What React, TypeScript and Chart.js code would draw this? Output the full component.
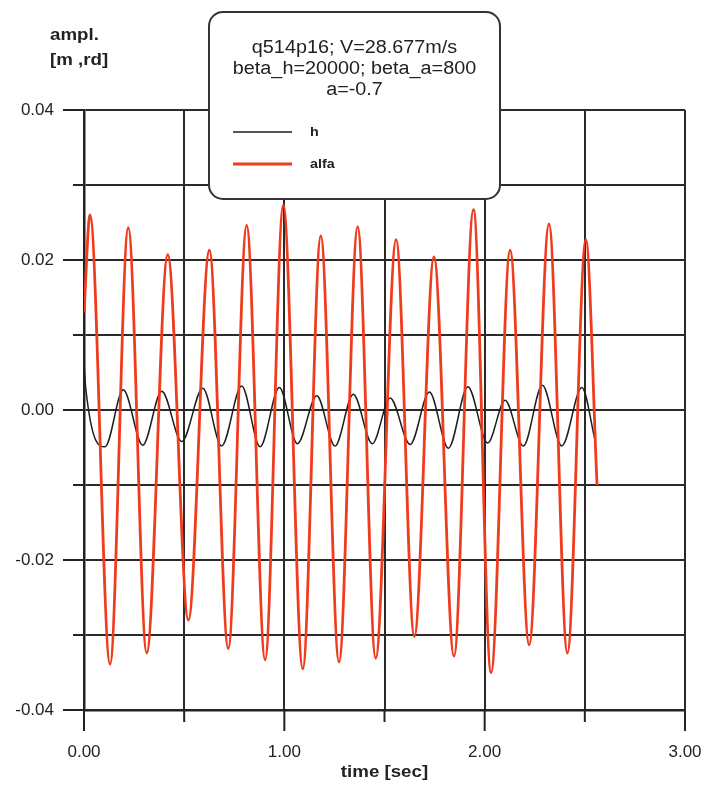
import { useEffect, useRef } from "react";
import { Chart, registerables } from "chart.js";

Chart.register(...registerables);

// Plunge displacement h [m]
const hTime = [0, 0.008, 0.105, 0.196, 0.293, 0.388, 0.488, 0.593, 0.687, 0.787, 0.879, 0.975, 1.065, 1.162, 1.253, 1.344, 1.439, 1.528, 1.628, 1.724, 1.819, 1.916, 2.015, 2.102, 2.193, 2.288, 2.385, 2.485, 2.551];
const hValue = [0.0065, 0.0031, -0.0049, 0.0027, -0.0047, 0.0025, -0.0042, 0.0029, -0.0048, 0.0032, -0.0049, 0.003, -0.0045, 0.0019, -0.0048, 0.0021, -0.0045, 0.0016, -0.0046, 0.0024, -0.0051, 0.0031, -0.0044, 0.0013, -0.0048, 0.0033, -0.0048, 0.003, -0.004];

// Pitch angle alfa [rd]
const alfaTime = [0, 0.03, 0.13, 0.221, 0.313, 0.418, 0.521, 0.626, 0.72, 0.812, 0.904, 0.995, 1.092, 1.182, 1.273, 1.366, 1.456, 1.558, 1.649, 1.747, 1.847, 1.944, 2.032, 2.127, 2.222, 2.321, 2.413, 2.505, 2.561];
const alfaValue = [0.013, 0.026, -0.0339, 0.0243, -0.0324, 0.0207, -0.028, 0.0213, -0.0318, 0.0246, -0.0333, 0.0273, -0.0345, 0.0232, -0.0336, 0.0244, -0.0331, 0.0227, -0.0302, 0.0204, -0.0328, 0.0267, -0.035, 0.0213, -0.0313, 0.0248, -0.0324, 0.0227, -0.01];

const seriesNames = ["h", "alfa"];
const seriesColors = ["#1e1e1e", "#f03c1e"];
const boxLines = ["q514p16; V=28.677m/s", "beta_h=20000; beta_a=800", "a=-0.7"];
const yTitle = ["ampl.", "[m ,rd]"];
const xTitle = "time [sec]";

const FONT = "'Liberation Sans', Arial, sans-serif";
const INK = "#222222";
const GRID = "#2a2a2a";

function drawText(
  ctx: CanvasRenderingContext2D,
  text: string,
  x: number,
  y: number,
  font: string,
  align: CanvasTextAlign,
  color = INK,
  stretch = 1.1
) {
  ctx.save();
  ctx.font = font;
  ctx.fillStyle = color;
  ctx.textAlign = align;
  ctx.textBaseline = "middle";
  ctx.translate(x, y);
  ctx.scale(stretch, 1);
  ctx.fillText(text, 0, 0);
  ctx.restore();
}

const decorPlugin = {
  id: "decor",
  afterDatasetsDraw(chart: any) {
    const ctx: CanvasRenderingContext2D = chart.ctx;
    // info / legend box
    const bx = 209, by = 12, bw = 291, bh = 187;
    ctx.save();
    ctx.beginPath();
    ctx.roundRect(bx, by, bw, bh, 14);
    ctx.fillStyle = "#ffffff";
    ctx.fill();
    ctx.lineWidth = 2;
    ctx.strokeStyle = "#333333";
    ctx.stroke();
    ctx.restore();

    const cx = bx + bw / 2;
    boxLines.forEach((line, i) => {
      drawText(ctx, line, cx, 48 + i * 21, `18px ${FONT}`, "center");
    });

    const rows = [132, 164];
    chart.data.datasets.forEach((ds: any, i: number) => {
      const y = rows[i];
      ctx.save();
      ctx.strokeStyle = ds.borderColor;
      ctx.lineWidth = i === 1 ? 2.8 : 1.6;
      ctx.beginPath();
      ctx.moveTo(233, y);
      ctx.lineTo(292, y);
      ctx.stroke();
      ctx.restore();
      drawText(ctx, ds.label, 310, y, `bold 13px ${FONT}`, "left");
    });
  },
  afterDraw(chart: any) {
    const ctx: CanvasRenderingContext2D = chart.ctx;
    const { left, bottom } = chart.chartArea;
    const xs = chart.scales.x;
    const ys = chart.scales.y;
    ctx.save();
    ctx.strokeStyle = INK;
    ctx.lineWidth = 2;
    ys.ticks.forEach((t: any) => {
      const major = Math.round(t.value * 100) % 2 === 0;
      const py = ys.getPixelForValue(t.value);
      ctx.beginPath();
      ctx.moveTo(left - (major ? 21 : 11), py);
      ctx.lineTo(left, py);
      ctx.stroke();
    });
    xs.ticks.forEach((t: any) => {
      const major = Math.abs(t.value - Math.round(t.value)) < 1e-6;
      const px = xs.getPixelForValue(t.value);
      ctx.beginPath();
      ctx.moveTo(px, bottom);
      ctx.lineTo(px, bottom + (major ? 21 : 12));
      ctx.stroke();
    });
    ctx.restore();

    drawText(ctx, yTitle[0], 50, 35, `bold 17px ${FONT}`, "left");
    drawText(ctx, yTitle[1], 50, 60, `bold 17px ${FONT}`, "left");
    drawText(ctx, xTitle, (chart.chartArea.left + chart.chartArea.right) / 2, 772, `bold 17px ${FONT}`, "center");
  },
};

export default function App() {
  const canvasRef = useRef<HTMLCanvasElement | null>(null);

  useEffect(() => {
    const canvas = canvasRef.current;
    if (!canvas) return;
    const toPoints = (xs: number[], ys: number[]) => xs.map((x, i) => ({ x, y: ys[i] }));

    const chart = new Chart(canvas, {
      type: "line",
      data: {
        datasets: [
          {
            label: seriesNames[0],
            data: toPoints(hTime, hValue),
            borderColor: seriesColors[0],
            borderWidth: 1.5,
            pointRadius: 0,
            cubicInterpolationMode: "monotone",
            order: 1,
          },
          {
            label: seriesNames[1],
            data: toPoints(alfaTime, alfaValue),
            borderColor: seriesColors[1],
            borderWidth: 2.8,
            pointRadius: 0,
            cubicInterpolationMode: "monotone",
            order: 0,
          },
        ],
      },
      options: {
        responsive: false,
        animation: false,
        layout: { padding: { top: 110, right: 22, left: 0, bottom: 0 } },
        plugins: { legend: { display: false }, tooltip: { enabled: false } },
        scales: {
          x: {
            type: "linear",
            min: 0,
            max: 3,
            afterFit: (s: any) => {
              s.height = 75;
              s.paddingLeft = 0;
              s.paddingRight = 0;
            },
            ticks: {
              stepSize: 0.5,
              padding: 32,
              maxRotation: 0,
              autoSkip: false,
              color: INK,
              font: { family: FONT, size: 17 },
              callback: (v: any) => {
                const n = Number(v);
                return Math.abs(n - Math.round(n)) < 1e-6 ? n.toFixed(2) : "";
              },
            },
            grid: { color: GRID, lineWidth: 2, drawTicks: false },
            border: { display: true, color: INK, width: 2.5 },
          },
          y: {
            type: "linear",
            min: -0.04,
            max: 0.04,
            afterFit: (s: any) => {
              s.width = 84;
              s.paddingTop = 0;
              s.paddingBottom = 0;
            },
            ticks: {
              stepSize: 0.01,
              padding: 30,
              autoSkip: false,
              color: INK,
              font: { family: FONT, size: 17 },
              callback: (v: any) => {
                const n = Number(v);
                const k = Math.round(n * 100);
                return k % 2 === 0 ? (k / 100).toFixed(2) : "";
              },
            },
            grid: { color: GRID, lineWidth: 2, drawTicks: false },
            border: { display: true, color: INK, width: 2.5 },
          },
        },
      },
      plugins: [decorPlugin],
    } as any);

    return () => chart.destroy();
  }, []);

  return (
    <div style={{ position: "fixed", left: 0, top: 0, width: 707, height: 785, background: "#ffffff" }}>
      <canvas ref={canvasRef} width={707} height={785} />
    </div>
  );
}
